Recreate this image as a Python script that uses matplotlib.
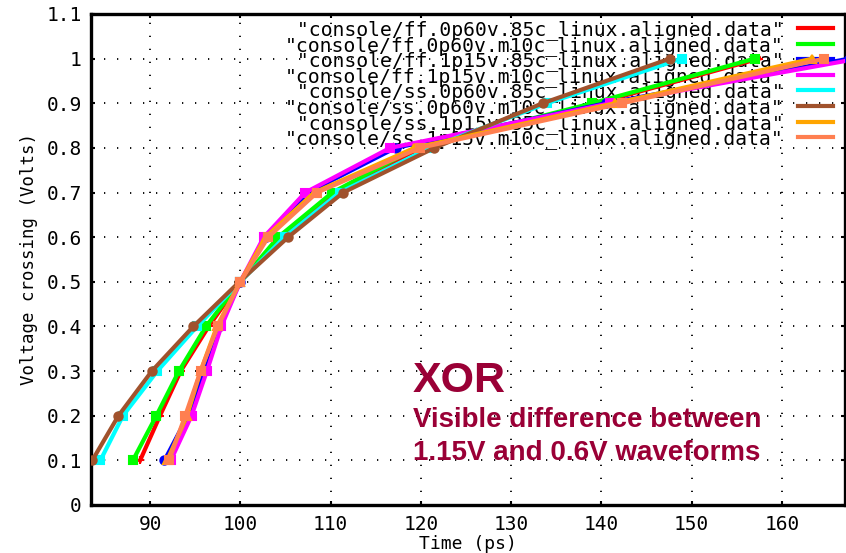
import matplotlib
matplotlib.use("Agg")
import matplotlib.pyplot as plt
from matplotlib.lines import Line2D
from matplotlib.ticker import FormatStrFormatter, MultipleLocator

# --- data: crossing times (ps) at each voltage level ---
volts = [0.1, 0.2, 0.3, 0.4, 0.5, 0.6, 0.7, 0.8, 0.9, 1.0]

names = [
    "console/ff.0p60v.85c_linux.aligned.data",
    "console/ff.0p60v.m10c_linux.aligned.data",
    "console/ff.1p15v.85c_linux.aligned.data",
    "console/ff.1p15v.m10c_linux.aligned.data",
    "console/ss.0p60v.85c_linux.aligned.data",
    "console/ss.0p60v.m10c_linux.aligned.data",
    "console/ss.1p15v.85c_linux.aligned.data",
    "console/ss.1p15v.m10c_linux.aligned.data",
]

ff_0p60v_85c = [88.9, 91.1, 93.4, 96.5, 100.0, 104.5, 110.5, 120.0, 139.5, 157.5]
ff_0p60v_m10c = [88.1, 90.7, 93.2, 96.2, 100.0, 104.2, 110.2, 119.5, 139.0, 157.0]
ff_1p15v_85c = [91.6, 94.2, 96.0, 97.7, 100.0, 102.9, 107.5, 117.2, 140.5, 167.5]
ff_1p15v_m10c = [92.3, 94.6, 96.3, 97.9, 100.0, 102.6, 107.2, 116.6, 141.0, 168.5]
ss_0p60v_85c = [84.5, 87.0, 90.8, 95.2, 100.0, 104.9, 111.0, 121.0, 134.0, 148.9]
ss_0p60v_m10c = [83.6, 86.5, 90.2, 94.8, 99.9, 105.3, 111.4, 121.5, 133.5, 147.6]
ss_1p15v_85c = [91.9, 94.1, 95.6, 97.4, 100.0, 102.8, 108.2, 119.3, 141.5, 163.4]
ss_1p15v_m10c = [92.1, 93.9, 95.6, 97.5, 100.0, 103.1, 108.5, 119.9, 142.3, 164.7]

series = [ff_0p60v_85c, ff_0p60v_m10c, ff_1p15v_85c, ff_1p15v_m10c,
          ss_0p60v_85c, ss_0p60v_m10c, ss_1p15v_85c, ss_1p15v_m10c]

# gnuplot default colours / point types (thick lines make them look filled)
colors = ["#ff0000", "#00ff00", "#0000ff", "#ff00ff",
          "#00ffff", "#a0522d", "#ffa500", "#ff7f50"]
markers = ["+", "s", "o", "s", "s", "o", "^", "s"]

MONO = "DejaVu Sans Mono"

fig = plt.figure(figsize=(8.46, 5.53), dpi=100)
ax = fig.add_axes([0.108, 0.0868, 0.8908, 0.8879])

for i, (t, c) in enumerate(zip(series, colors)):
    ax.plot(t, volts, color=c, lw=3, marker=markers[i], ms=6, mew=1.5,
            mfc=c, mec=c, zorder=3 + i * 0.01)

ax.set_xlim(83.5, 167)
ax.set_ylim(0, 1.1)
ax.xaxis.set_major_locator(MultipleLocator(10))
ax.yaxis.set_major_locator(MultipleLocator(0.1))
ax.yaxis.set_major_formatter(FormatStrFormatter("%g"))
ax.xaxis.set_major_formatter(FormatStrFormatter("%g"))

ax.grid(True, color="black", lw=1.3, linestyle=(0, (0.7, 6.5)), zorder=1)
ax.set_axisbelow(True)

for s in ax.spines.values():
    s.set_linewidth(2.4)
ax.tick_params(direction="in", length=3, width=1.5, top=True, right=True,
               labelsize=14, pad=7)
for lab in ax.get_xticklabels() + ax.get_yticklabels():
    lab.set_family(MONO)

ax.set_xlabel("Time (ps)", family=MONO, fontsize=13, labelpad=1)
ax.set_ylabel("Voltage crossing (Volts)", family=MONO, fontsize=12.5, labelpad=6)

# key: text right-justified, sample to the right, lines drawn over it
width = max(len(n) for n in names) + 2
labels = [('"%s"' % n).rjust(width) for n in names]
handles = [Line2D([], [], color=c, lw=3) for c in colors]
leg = ax.legend(handles, labels, loc="upper right", frameon=False,
                markerfirst=False, handlelength=1.8, handletextpad=0.7,
                labelspacing=-0.22, borderpad=0, borderaxespad=0,
                bbox_to_anchor=(833 / 846, 1 - 20 / 553),
                bbox_transform=fig.transFigure,
                prop={"family": MONO, "size": 14.2})
leg.set_zorder(2.5)

red = "#9a0036"
ax.text(0.4267, 0.230, "XOR", transform=ax.transAxes, color=red,
        family="Liberation Sans", weight="bold", fontsize=31, va="baseline")
ax.text(0.4267, 0.1589, "Visible difference between", transform=ax.transAxes,
        color=red, family="Liberation Sans", weight="bold", fontsize=20,
        va="baseline")
ax.text(0.4267, 0.0916, "1.15V and 0.6V waveforms", transform=ax.transAxes,
        color=red, family="Liberation Sans", weight="bold", fontsize=20,
        va="baseline")

fig.savefig("out.png", dpi=100)
